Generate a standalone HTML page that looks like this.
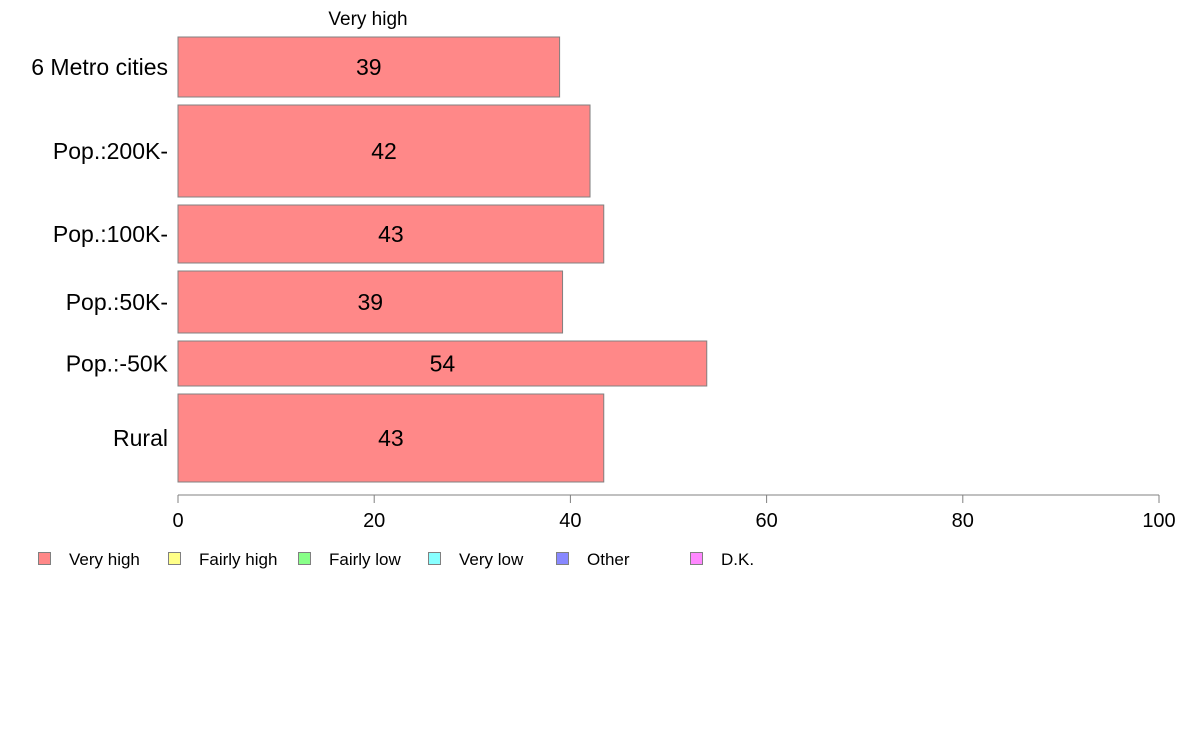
<!DOCTYPE html>
<html><head><meta charset="utf-8"><style>
body{margin:0;background:#fff;}
svg{display:block;font-family:"Liberation Sans",sans-serif;}
</style></head><body>
<svg id="chart" width="1188" height="736"></svg>
<script>
const categories = ["6 Metro cities","Pop.:200K-","Pop.:100K-","Pop.:50K-","Pop.:-50K","Rural"];
const veryHigh = [38.9, 42.0, 43.4, 39.2, 53.9, 43.4];
const printed = ["39","42","43","39","54","43"];
const sampleWeights = [60, 92, 58, 62, 45, 88];
const xTicks = [0,20,40,60,80,100];
const legendLabels = ["Very high","Fairly high","Fairly low","Very low","Other","D.K."];
const legendColors = ["#ff8888","#ffff88","#88ff88","#88ffff","#8888ff","#ff88ff"];

const NS="http://www.w3.org/2000/svg";
const svgEl=document.getElementById('chart');
function mk(t,a){const e=document.createElementNS(NS,t);for(const k in a)e.setAttribute(k,a[k]);svgEl.appendChild(e);return e;}
const x0=178,x1=1159;
const xs=v=>x0+(x1-x0)*v/100;
const barTop=37,barGap=8,barBottom=482;
const totalW=sampleWeights.reduce((a,b)=>a+b,0);
const avail=barBottom-barTop-barGap*(categories.length-1);

const title=mk('text',{x:368,y:25,'text-anchor':'middle','font-size':19});
title.textContent="Very high";



let yy=barTop;
categories.forEach((c,i)=>{
  const h=avail*sampleWeights[i]/totalW;
  const r=mk('rect',{x:x0,y:yy,width:xs(veryHigh[i])-x0,height:h,fill:'#ff8888',stroke:'#808080','stroke-width':1});
  
  
  const t=mk('text',{x:(x0+xs(veryHigh[i]))/2,y:yy+h/2+8,'text-anchor':'middle','font-size':23});
  t.textContent=printed[i];
  
  
  const l=mk('text',{x:168,y:yy+h/2+8,'text-anchor':'end','font-size':23});
  l.textContent=c;
  
  
  yy+=h+barGap;
});

const ax=mk('line',{x1:x0,x2:x1,y1:495,y2:495,stroke:'#808080','stroke-width':1});


xTicks.forEach(v=>{
  const tk=mk('line',{x1:xs(v),x2:xs(v),y1:495,y2:503,stroke:'#808080','stroke-width':1});
  
  
  const tl=mk('text',{x:xs(v),y:527,'text-anchor':'middle','font-size':20});
  tl.textContent=v;
  
  
});

const legX=[38,168,298,428,556,690];
legendLabels.forEach((lab,i)=>{
  const b=mk('rect',{x:legX[i]+0.5,y:552.5,width:12,height:12,fill:legendColors[i],stroke:'#808080','stroke-width':1});
  
  
  const t=mk('text',{x:legX[i]+31,y:565,'font-size':17});
  t.textContent=lab;
  
  
});
</script>
</body></html>
